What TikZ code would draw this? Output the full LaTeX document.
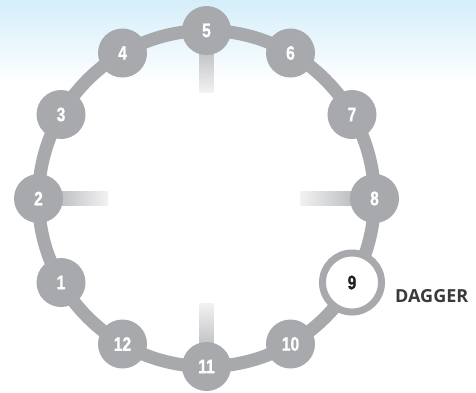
\documentclass[tikz,border=0pt]{standalone}
\usepackage{fontspec}
\setmainfont{Liberation Sans}
\newfontfamily\dagfont{Open Sans}
\newfontfamily\numfont{Liberation Sans Bold}[FakeBold=1.2]
\usepackage{graphicx}
\usetikzlibrary{calc}
\definecolor{bgblue}{RGB}{213,238,250}
\definecolor{ringgray}{RGB}{167,169,172}
\definecolor{fadegray}{RGB}{242,242,243}
\definecolor{textdark}{RGB}{58,58,60}
\definecolor{numblack}{RGB}{35,31,32}
\tikzset{
  hub/.style={circle, fill=ringgray, minimum size=49pt, inner sep=0pt, text=white,
    font=\numfont\fontsize{19.5}{19.5}\selectfont},
  hubsel/.style={circle, fill=white, draw=ringgray, line width=7pt, minimum size=59pt, inner sep=0pt,
    text=numblack, font=\numfont\fontsize{19.5}{19.5}\selectfont},
  lbl/.style={anchor=west, text=textdark, font=\dagfont\fontsize{18}{18}\selectfont\bfseries, inner sep=0pt},
  ring/.style={draw=ringgray, line width=13pt}
}
\newcommand{\cnum}[1]{\scalebox{0.8}[1]{#1}}
\begin{document}
\begin{tikzpicture}[x=1pt,y=-1pt]
\useasboundingbox (0,0) rectangle (476,392);
\fill[white] (0,0) rectangle (476,392);
\shade[top color=bgblue, bottom color=white] (0,0) rectangle (476,85);
\coordinate (c) at (206.5,198.5);
\draw[ring] (c) circle (168);
% ticks
\shade[top color=ringgray, bottom color=fadegray] (199.5,30) rectangle (213.5,92);
\shade[top color=fadegray, bottom color=ringgray] (199.5,303) rectangle (213.5,367);
\shade[left color=ringgray, right color=fadegray] (38,191.5) rectangle (108,205.5);
\shade[left color=fadegray, right color=ringgray] (300,191.5) rectangle (375,205.5);
% hubs
\foreach \n in {1,2,3,4,5,6,7,8,10,11,12}{
  \pgfmathsetmacro{\ang}{30*(\n-5)-90}
  \node[hub] (n\n) at ($(c)+(\ang:168)$) {\cnum{\n}};
}
\node[hubsel] (n9) at ($(c)+(30:168)$) {\cnum{9}};
\node[lbl] (dag) at (395,296.5) {DAGGER};
\end{tikzpicture}
\end{document}
